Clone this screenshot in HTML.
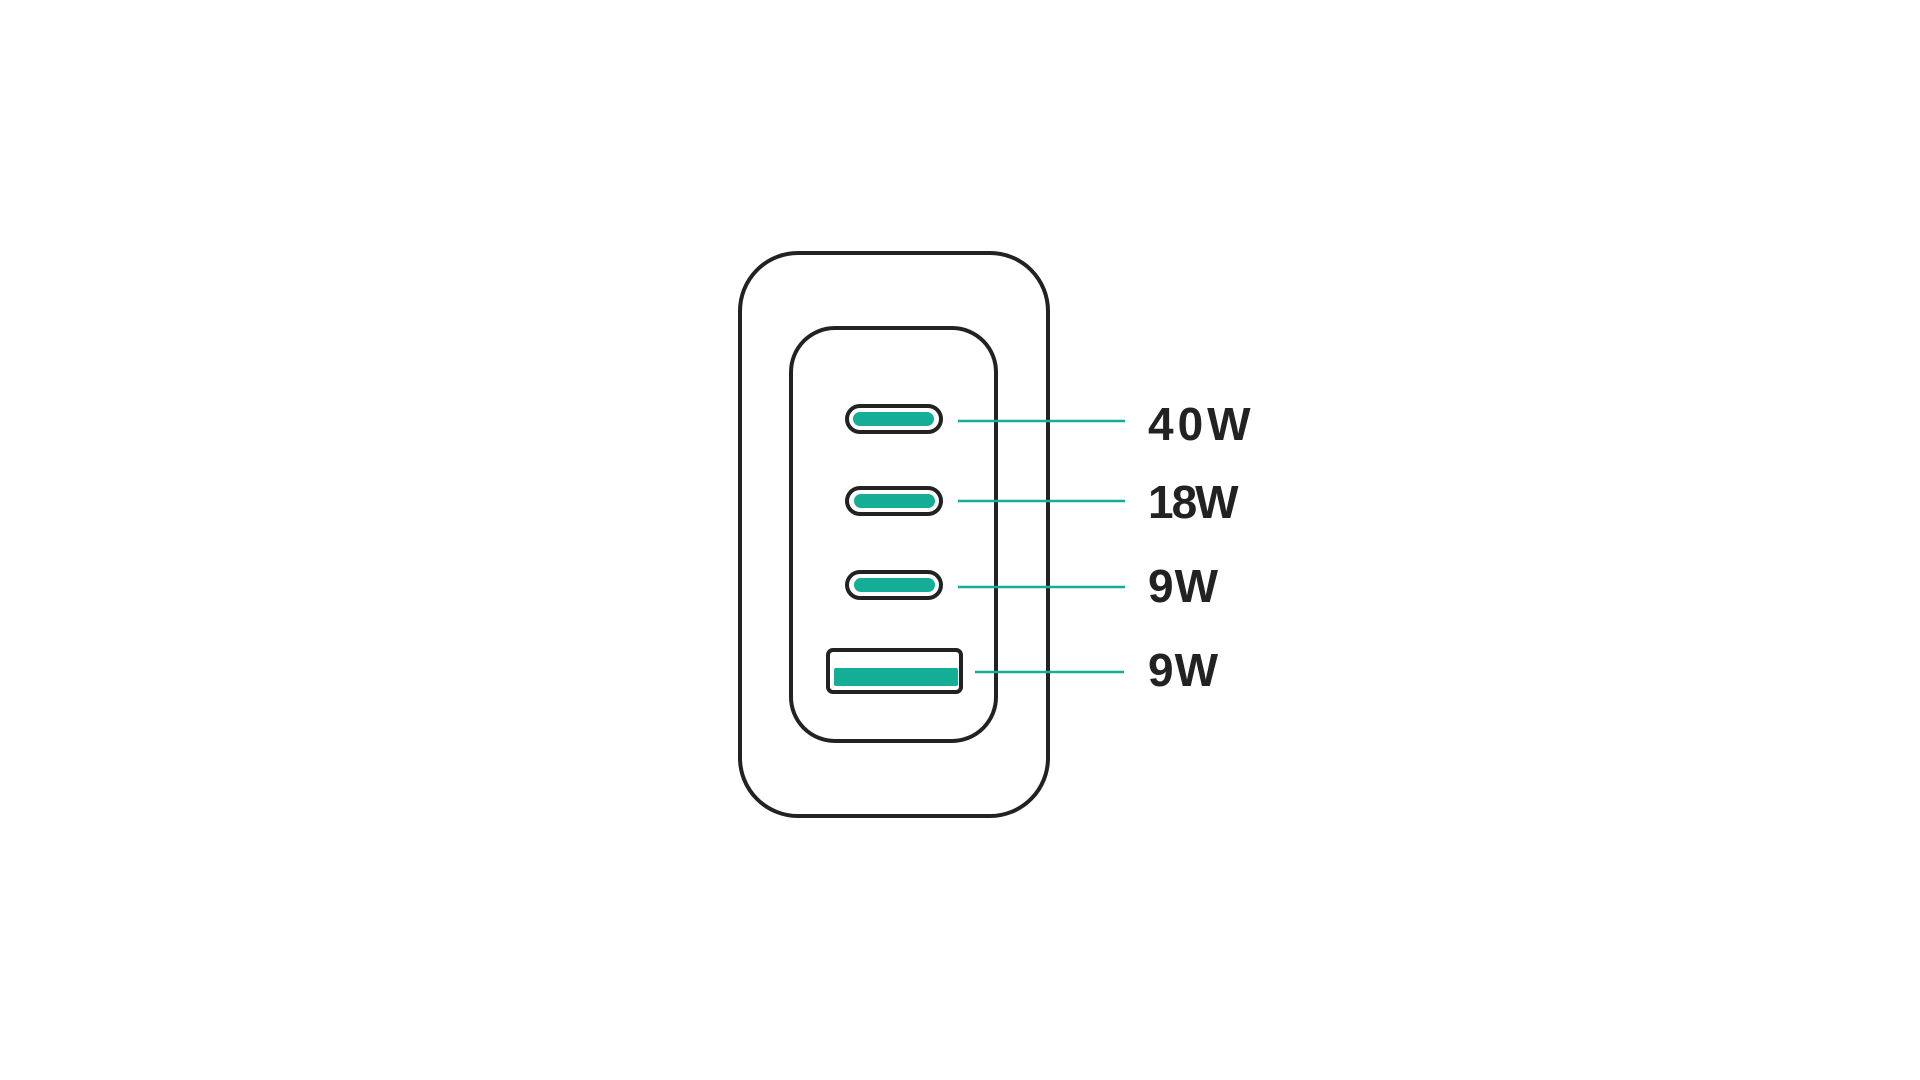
<!DOCTYPE html>
<html><head><meta charset="utf-8"><style>
html,body{margin:0;padding:0;background:#fff;width:1920px;height:1080px;overflow:hidden}
</style></head><body>
<svg width="1920" height="1080" viewBox="0 0 1920 1080" xmlns="http://www.w3.org/2000/svg">
<rect x="740" y="253" width="308" height="563" rx="58" fill="none" stroke="#222" stroke-width="4"/>
<rect x="791" y="328" width="205" height="413" rx="44" fill="none" stroke="#222" stroke-width="4"/>
<g fill="none" stroke="#222" stroke-width="4">
<rect x="847" y="406" width="94" height="26" rx="13"/>
<rect x="847" y="488" width="94" height="26" rx="13"/>
<rect x="847" y="572" width="94" height="26" rx="13"/>
<rect x="828" y="650" width="133" height="42" rx="5"/>
</g>
<g fill="#14ae96">
<rect x="853" y="412" width="81" height="14" rx="7"/>
<rect x="854" y="494" width="81" height="14" rx="7"/>
<rect x="854" y="578" width="81" height="14" rx="7"/>
<rect x="834" y="668" width="124" height="18" rx="2"/>
</g>
<g stroke="#14ae96" stroke-width="2.5">
<line x1="958" y1="421" x2="1125" y2="421"/>
<line x1="958" y1="501" x2="1125" y2="501"/>
<line x1="958" y1="587" x2="1125" y2="587"/>
<line x1="975" y1="672" x2="1124" y2="672"/>
</g>
<g font-family="Liberation Sans, sans-serif" font-weight="bold" font-size="46" fill="#222">
<text x="1148" y="440" letter-spacing="4">40W</text>
<text x="1148" y="518" letter-spacing="-2">18W</text>
<text x="1148" y="602" letter-spacing="1">9W</text>
<text x="1148" y="686" letter-spacing="1">9W</text>
</g>
</svg>
</body></html>
